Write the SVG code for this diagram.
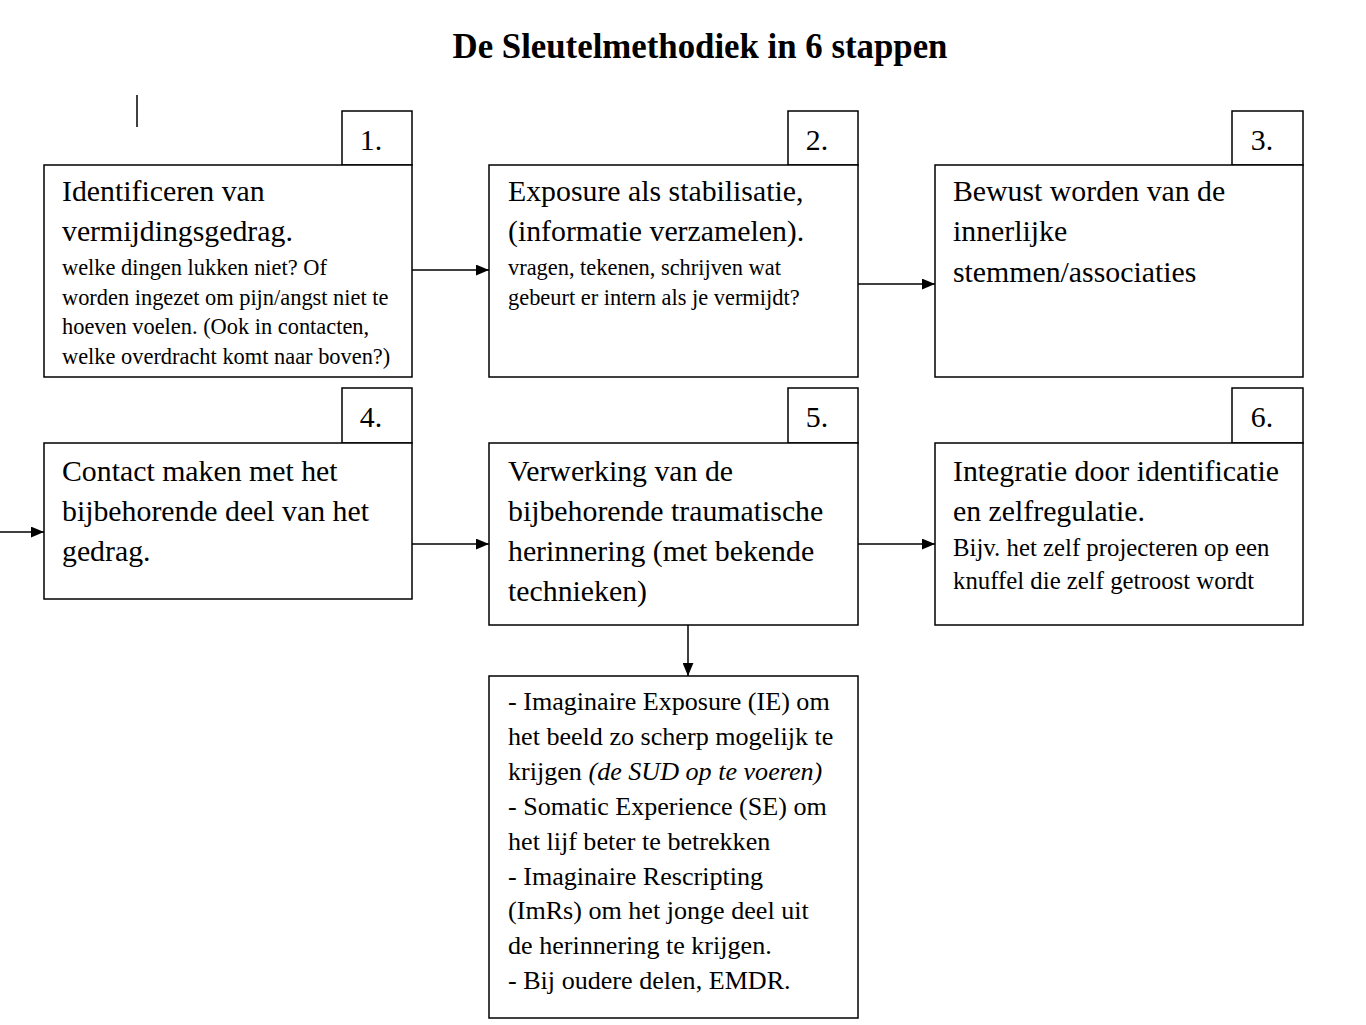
<svg xmlns="http://www.w3.org/2000/svg" width="1366" height="1025" viewBox="0 0 1366 1025">
<style>
.box{fill:#fff;stroke:#000;stroke-width:1.5}
.t{font-family:"Liberation Serif","Times New Roman",serif;fill:#000}
.m{font-size:29.8px}
.s{font-size:22.4px}
.s2{font-size:24.8px}
.b{font-size:26.1px}
.n{font-size:29.8px;text-anchor:middle}
.c{stroke:#000;stroke-width:1.5;fill:none}
</style>
<defs>
<marker id="ah" viewBox="0 0 12 10" refX="12" refY="5" markerWidth="13" markerHeight="11" markerUnits="userSpaceOnUse" orient="auto">
<path d="M0,0 L12,5 L0,10 z" fill="#000"/>
</marker>
</defs>
<rect width="1366" height="1025" fill="#fff"/>
<text class="t" x="700" y="58" font-size="34.8" font-weight="bold" text-anchor="middle">De Sleutelmethodiek in 6 stappen</text>
<line x1="137" y1="95" x2="137" y2="127" stroke="#000" stroke-width="1.5"/>

<g id="connectors">
<line class="c" x1="412" y1="270" x2="489" y2="270" marker-end="url(#ah)"/>
<line class="c" x1="858" y1="284" x2="935" y2="284" marker-end="url(#ah)"/>
<line class="c" x1="0" y1="532" x2="44" y2="532" marker-end="url(#ah)"/>
<line class="c" x1="412" y1="544" x2="489" y2="544" marker-end="url(#ah)"/>
<line class="c" x1="858" y1="544" x2="935" y2="544" marker-end="url(#ah)"/>
<line class="c" x1="688" y1="625" x2="688" y2="676" marker-end="url(#ah)"/>
</g>

<g id="step1">
<rect class="box" x="342" y="111" width="70" height="54"/>
<text class="t n" x="371" y="150">1.</text>
<rect class="box" x="44" y="165" width="368" height="212"/>
<text class="t m" x="62" y="201">Identificeren van</text>
<text class="t m" x="62" y="241">vermijdingsgedrag.</text>
<text class="t s" x="62" y="275">welke dingen lukken niet? Of</text>
<text class="t s" x="62" y="305">worden ingezet om pijn/angst niet te</text>
<text class="t s" x="62" y="334">hoeven voelen. (Ook in contacten,</text>
<text class="t s" x="62" y="364">welke overdracht komt naar boven?)</text>
</g>

<g id="step2">
<rect class="box" x="788" y="111" width="70" height="54"/>
<text class="t n" x="817" y="150">2.</text>
<rect class="box" x="489" y="165" width="369" height="212"/>
<text class="t m" x="508" y="201">Exposure als stabilisatie,</text>
<text class="t m" x="508" y="241">(informatie verzamelen).</text>
<text class="t s" x="508" y="275">vragen, tekenen, schrijven wat</text>
<text class="t s" x="508" y="305">gebeurt er intern als je vermijdt?</text>
</g>

<g id="step3">
<rect class="box" x="1232" y="111" width="71" height="54"/>
<text class="t n" x="1262" y="150">3.</text>
<rect class="box" x="935" y="165" width="368" height="212"/>
<text class="t m" x="953" y="201">Bewust worden van de</text>
<text class="t m" x="953" y="241">innerlijke</text>
<text class="t m" x="953" y="282">stemmen/associaties</text>
</g>

<g id="step4">
<rect class="box" x="342" y="388" width="70" height="55"/>
<text class="t n" x="371" y="427">4.</text>
<rect class="box" x="44" y="443" width="368" height="156"/>
<text class="t m" x="62" y="481">Contact maken met het</text>
<text class="t m" x="62" y="521">bijbehorende deel van het</text>
<text class="t m" x="62" y="561">gedrag.</text>
</g>

<g id="step5">
<rect class="box" x="788" y="388" width="70" height="55"/>
<text class="t n" x="817" y="427">5.</text>
<rect class="box" x="489" y="443" width="369" height="182"/>
<text class="t m" x="508" y="481">Verwerking van de</text>
<text class="t m" x="508" y="521">bijbehorende traumatische</text>
<text class="t m" x="508" y="561">herinnering (met bekende</text>
<text class="t m" x="508" y="601">technieken)</text>
</g>

<g id="step6">
<rect class="box" x="1232" y="388" width="71" height="55"/>
<text class="t n" x="1262" y="427">6.</text>
<rect class="box" x="935" y="443" width="368" height="182"/>
<text class="t m" x="953" y="481">Integratie door identificatie</text>
<text class="t m" x="953" y="521">en zelfregulatie.</text>
<text class="t s2" x="953" y="556">Bijv. het zelf projecteren op een</text>
<text class="t s2" x="953" y="589">knuffel die zelf getroost wordt</text>
</g>

<g id="techniques">
<rect class="box" x="489" y="676" width="369" height="342"/>
<text class="t b" x="508" y="710">- Imaginaire Exposure (IE) om</text>
<text class="t b" x="508" y="745">het beeld zo scherp mogelijk te</text>
<text class="t b" x="508" y="780">krijgen <tspan font-style="italic">(de SUD op te voeren)</tspan></text>
<text class="t b" x="508" y="815">- Somatic Experience (SE) om</text>
<text class="t b" x="508" y="850">het lijf beter te betrekken</text>
<text class="t b" x="508" y="885">- Imaginaire Rescripting</text>
<text class="t b" x="508" y="919">(ImRs) om het jonge deel uit</text>
<text class="t b" x="508" y="954">de herinnering te krijgen.</text>
<text class="t b" x="508" y="989">- Bij oudere delen, EMDR.</text>
</g>
</svg>
